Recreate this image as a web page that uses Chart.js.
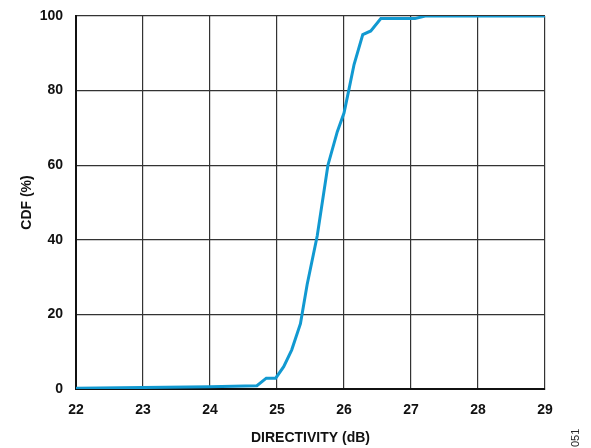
<!DOCTYPE html>
<html>
<head>
<meta charset="utf-8">
<script src="https://cdn.jsdelivr.net/npm/chart.js@4.4.0/dist/chart.umd.min.js"></script>
<style>
  html, body { margin: 0; padding: 0; background: #fff; }
  #wrap { position: relative; width: 591px; height: 448px; }
  #note { position: absolute; left: 569px; top: 447px; font: 11px "Liberation Sans", Arial, sans-serif; color: #222;
          transform: rotate(-90deg); transform-origin: left top; }
</style>
</head>
<body>
<div id="wrap">
  <canvas id="myChart" width="591" height="448"></canvas>
  <div id="note">051</div>
</div>
<script>
// dados
const directivity = [22, 23, 24, 24.7, 24.84, 24.98, 25.1, 25.22, 25.35, 25.45, 25.6, 25.76, 25.9, 26.0, 26.07, 26.15, 26.28, 26.4, 26.55, 27.06, 27.21, 29];
const cdf =         [0.2, 0.4, 0.6, 0.9, 2.9, 2.9, 6, 10.5, 17.5, 28, 41, 60, 69, 74, 80, 87, 95, 96, 99.3, 99.3, 100, 100];
const xTicks = [22, 23, 24, 25, 26, 27, 28, 29];
const yTicks = [0, 20, 40, 60, 80, 100];

const points = directivity.map((x, i) => ({ x: x, y: cdf[i] }));
const font = { family: '"Liberation Sans", Arial, sans-serif', weight: 'bold', size: 14 };

const ctx = document.getElementById('myChart').getContext('2d');
const myChart = new Chart(ctx, {
    type: 'line',
    data: {
        datasets: [{
            data: points,
            borderColor: '#1199d1',
            borderWidth: 3,
            pointRadius: 0,
            fill: false,
            tension: 0
        }]
    },
    options: {
        responsive: false,
        animation: false,
        layout: { padding: { top: 16, right: 46, left: 0, bottom: 0 } },
        plugins: { legend: { display: false }, tooltip: { enabled: false } },
        scales: {
            x: {
                type: 'linear',
                min: 22, max: 29,
                afterBuildTicks: axis => { axis.ticks = xTicks.map(v => ({ value: v })); },
                afterFit: axis => { axis.height = 59; axis.paddingLeft = 0; axis.paddingRight = 0; },
                grid: { color: '#333', lineWidth: 1.2, drawTicks: false },
                border: { color: '#111', width: 2 },
                ticks: { font: font, color: '#111', padding: 13, maxRotation: 0 },
                title: { display: true, text: 'DIRECTIVITY (dB)', font: font, color: '#111', padding: { top: 0, bottom: 1 } }
            },
            y: {
                min: 0, max: 100,
                afterBuildTicks: axis => { axis.ticks = yTicks.map(v => ({ value: v })); },
                afterFit: axis => { axis.width = 76; axis.paddingTop = 0; axis.paddingBottom = 0; },
                grid: { color: '#333', lineWidth: 1.2, drawTicks: false },
                border: { color: '#111', width: 2 },
                ticks: { font: font, color: '#111', padding: 13 },
                title: { display: true, text: 'CDF (%)', font: font, color: '#111', padding: { top: 19, bottom: 0 } }
            }
        }
    }
});
</script>
</body>
</html>
